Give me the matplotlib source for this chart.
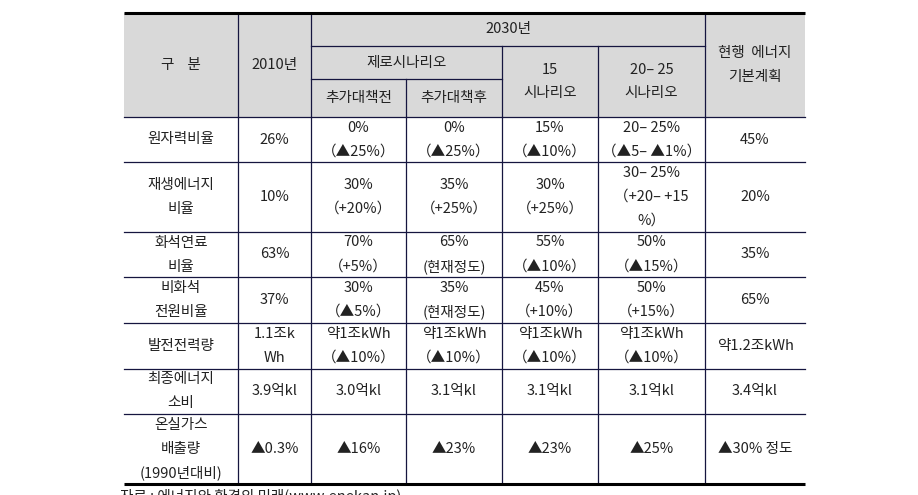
import matplotlib
matplotlib.use("Agg")
import matplotlib.pyplot as plt
import matplotlib.patches as patches

plt.rcParams['font.family'] = ['Noto Sans CJK KR', 'DejaVu Sans']

# -------- DATA --------
row_labels = ["원자력비율", "재생에너지\n비율", "화석연료\n비율", "비화석\n전원비율",
              "발전전력량", "최종에너지\n소비", "온실가스\n배출량\n(1990년대비)"]

col_2010 = ["26%", "10%", "63%", "37%", "1.1조k\nWh", "3.9억kl", "▲0.3%"]
col_zero_before = ["0%\n（▲25%）", "30%\n（+20%）", "70%\n（+5%）", "30%\n（▲5%）",
                   "약1조kWh\n（▲10%）", "3.0억kl", "▲16%"]
col_zero_after = ["0%\n（▲25%）", "35%\n（+25%）", "65%\n(현재정도)", "35%\n(현재정도)",
                  "약1조kWh\n（▲10%）", "3.1억kl", "▲23%"]
col_15 = ["15%\n（▲10%）", "30%\n（+25%）", "55%\n（▲10%）", "45%\n（+10%）",
          "약1조kWh\n（▲10%）", "3.1억kl", "▲23%"]
col_20_25 = ["20– 25%\n（▲5– ▲1%）", "30– 25%\n（+20– +15\n%）", "50%\n（▲15%）",
             "50%\n（+15%）", "약1조kWh\n（▲10%）", "3.1억kl", "▲25%"]
col_plan = ["45%", "20%", "35%", "65%", "약1.2조kWh", "3.4억kl", "▲30% 정도"]

columns = [row_labels, col_2010, col_zero_before, col_zero_after, col_15, col_20_25, col_plan]

# -------- LAYOUT (pixels) --------
W, H = 918, 495
x_edges = [124, 238, 311, 406, 502, 598, 705, 805]
y_top, y_h1, y_h2, y_head = 13, 46, 79, 117
y_rows = [117, 162, 232, 277, 323, 369, 414, 484]

LINE = "#15153f"
TEXT = "#222222"
GREY = "#d9d9d9"
FS = 10.5
PITCH = 24

fig = plt.figure(figsize=(W / 100, H / 100), dpi=100)
ax = fig.add_axes([0, 0, 1, 1])
ax.set_xlim(0, W)
ax.set_ylim(H, 0)
ax.axis('off')


def put(x, y, s, fs=FS):
    lines = s.split("\n")
    n = len(lines)
    for i, ln in enumerate(lines):
        yy = y + (i - (n - 1) / 2) * PITCH
        ax.text(x, yy, ln, ha='center', va='center', fontsize=fs, color=TEXT)


# header background
ax.add_patch(patches.Rectangle((x_edges[0], y_top), x_edges[-1] - x_edges[0],
                               y_head - y_top, facecolor=GREY, edgecolor='none'))

# header lines
ax.plot([x_edges[2], x_edges[6]], [y_h1, y_h1], color=LINE, lw=0.9)
ax.plot([x_edges[2], x_edges[4]], [y_h2, y_h2], color=LINE, lw=0.9)
for xv in (x_edges[1], x_edges[2], x_edges[6]):
    ax.plot([xv, xv], [y_top, y_head], color=LINE, lw=0.9)
for xv in (x_edges[4], x_edges[5]):
    ax.plot([xv, xv], [y_h1, y_head], color=LINE, lw=0.9)
ax.plot([x_edges[3], x_edges[3]], [y_h2, y_head], color=LINE, lw=0.9)

# body lines
for yv in y_rows[:-1]:
    ax.plot([x_edges[0], x_edges[-1]], [yv, yv], color=LINE, lw=0.9)
for xv in x_edges[1:-1]:
    ax.plot([xv, xv], [y_head, y_rows[-1]], color=LINE, lw=0.9)

# thick top / bottom rules
ax.plot([x_edges[0], x_edges[-1]], [y_top, y_top], color='black', lw=2.2, solid_capstyle='butt')
ax.plot([x_edges[0], x_edges[-1]], [y_rows[-1], y_rows[-1]], color='black', lw=2.2,
        solid_capstyle='butt')

# header texts
mid = lambda a, b: (a + b) / 2
put(mid(x_edges[0], x_edges[1]), mid(y_top, y_head), "구    분")
put(mid(x_edges[1], x_edges[2]), mid(y_top, y_head), "2010년")
put(mid(x_edges[2], x_edges[6]), mid(y_top, y_h1), "2030년")
put(mid(x_edges[2], x_edges[4]), mid(y_h1, y_h2), "제로시나리오")
put(mid(x_edges[2], x_edges[3]), mid(y_h2, y_head), "추가대책전")
put(mid(x_edges[3], x_edges[4]), mid(y_h2, y_head), "추가대책후")
put(mid(x_edges[4], x_edges[5]), mid(y_h1, y_head), "15\n시나리오")
put(mid(x_edges[5], x_edges[6]), mid(y_h1, y_head), "20– 25\n시나리오")
put(mid(x_edges[6], x_edges[7]), mid(y_top, y_head), "현행  에너지\n기본계획")

# body texts
for c, col in enumerate(columns):
    xc = mid(x_edges[c], x_edges[c + 1])
    for r, val in enumerate(col):
        put(xc, mid(y_rows[r], y_rows[r + 1]), val)

# source note (only its top shows, as in the original)
ax.text(120, 489, "자료 : 에너지와 환경의 미래(www.enekan.jp)", ha='left', va='top',
        fontsize=FS, color=TEXT)

fig.savefig("out.png", dpi=100)
